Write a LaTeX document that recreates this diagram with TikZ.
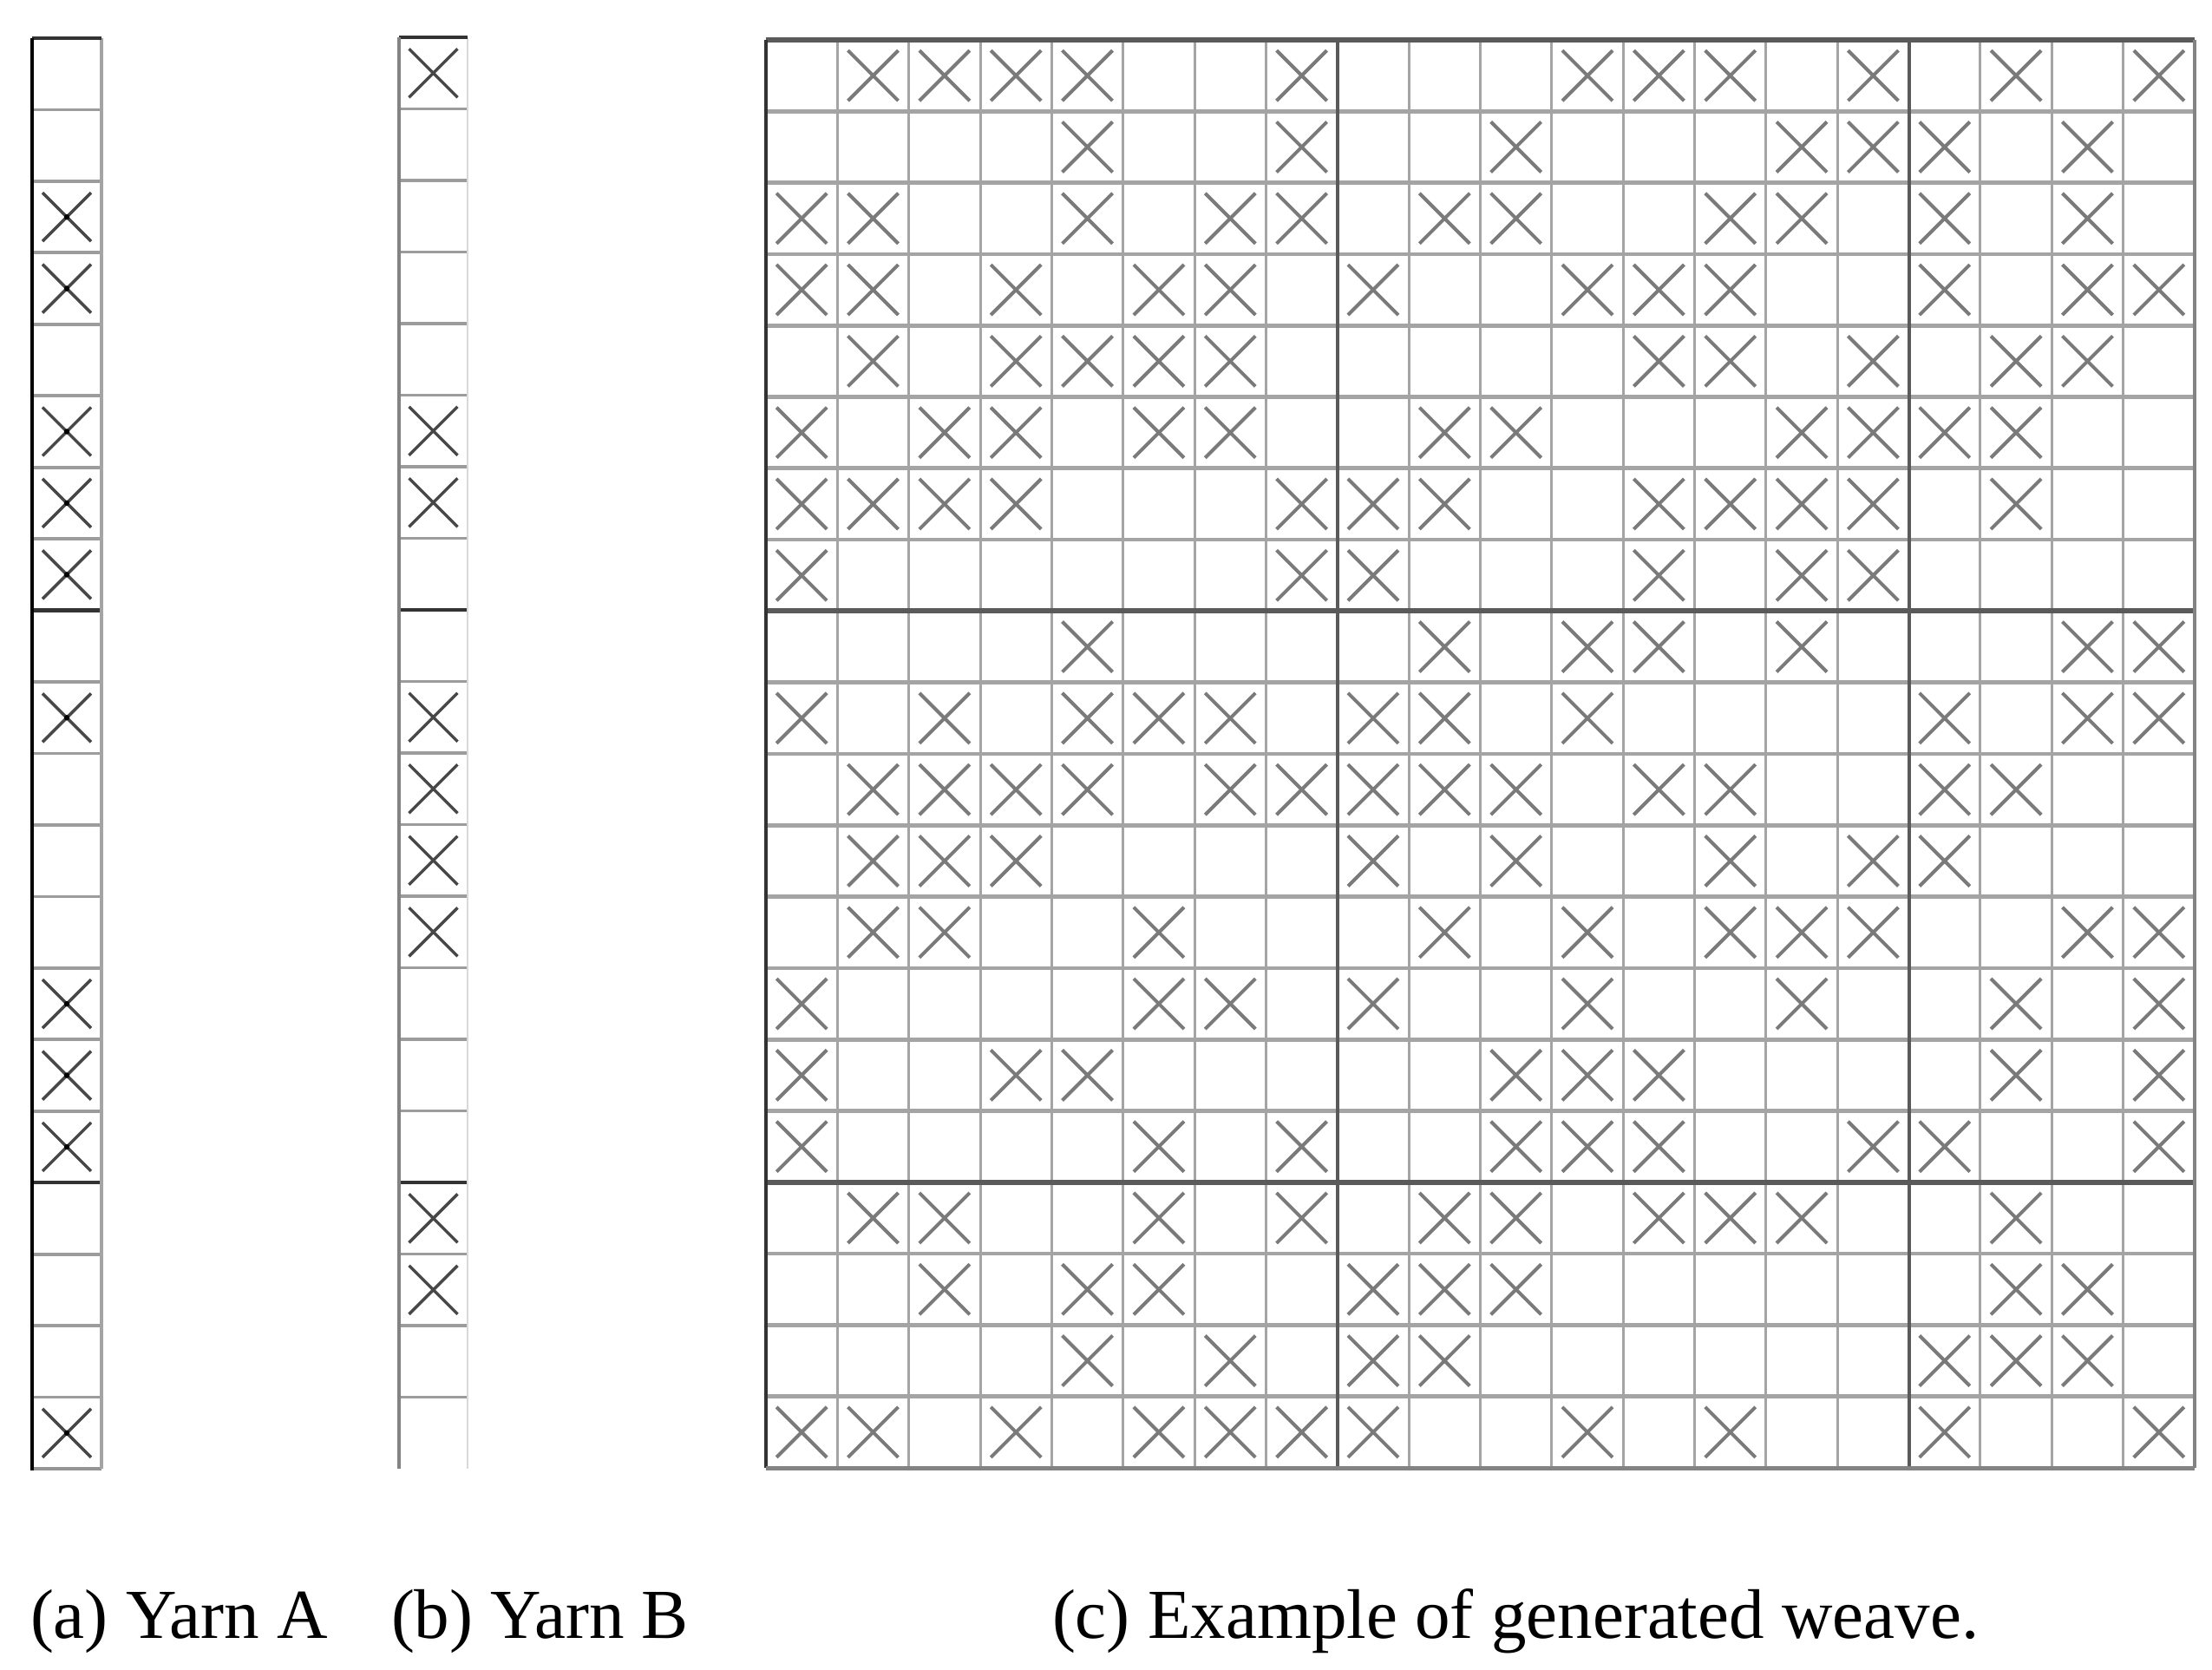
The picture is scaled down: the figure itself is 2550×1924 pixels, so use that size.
\documentclass[tikz,border=0pt]{standalone}
\usepackage{fontspec}
\setmainfont{Liberation Serif}
\definecolor{gthin}{HTML}{A4A4A4}
\definecolor{gthick}{HTML}{5A5A5A}
\definecolor{gx}{HTML}{7A7A7A}
\definecolor{dx}{HTML}{474747}
\definecolor{dline}{HTML}{333333}
\tikzset{
  hthin/.style={draw=gthin, line width=0.95pt},
  vthin/.style={draw=gthin, line width=0.6pt},
  hthick/.style={draw=gthick, line width=1.2pt},
  vthick/.style={draw=gthick, line width=0.8pt},
  gridx/.style={draw=gx, line width=0.8pt},
  yarnx/.style={draw=dx, line width=0.7pt},
  ythin/.style={draw=gthin!95!black, line width=0.75pt},
  ythick/.style={draw=dline, line width=0.85pt},
  lbl/.style={anchor=base west, inner sep=0pt, font=\fontsize{16.2}{19}\selectfont}
}
\begin{document}
\begin{tikzpicture}[x=0.2pt,y=-0.2pt]
\useasboundingbox (0,0) rectangle (2550,1924);
\fill[white] (0,0) rectangle (2550,1924);

% ---------- Grid (c) ----------
\def\gx{883}\def\gy{46}\def\gw{82.35}\def\gh{82.3}
\foreach \i in {1,...,19}{
  \ifnum\i=8\relax\else\ifnum\i=16\relax\else
  \draw[vthin] (\gx+\i*\gw,\gy) -- (\gx+\i*\gw,\gy+20*\gh);
  \fi\fi
  \ifnum\i=8\relax\else\ifnum\i=16\relax\else
  \draw[hthin] (\gx,\gy+\i*\gh) -- (\gx+20*\gw,\gy+\i*\gh);
  \fi\fi
}
\foreach \i in {8,16}{
  \draw[vthick] (\gx+\i*\gw,\gy) -- (\gx+\i*\gw,\gy+20*\gh);
  \draw[hthick] (\gx,\gy+\i*\gh) -- (\gx+20*\gw,\gy+\i*\gh);
}
\draw[draw=gthick, line width=1.1pt] (\gx,\gy) -- (\gx+20*\gw,\gy);
\draw[draw=dline, line width=0.7pt] (\gx,\gy) -- (\gx,\gy+20*\gh);
\draw[draw=gthin!80!black, line width=0.8pt] (\gx+20*\gw,\gy) -- (\gx+20*\gw,\gy+20*\gh);
\draw[draw=gthin!80!black, line width=1.0pt] (\gx,\gy+20*\gh) -- (\gx+20*\gw,\gy+20*\gh);

\foreach \cols [count=\r] in {
  {2,3,4,5,8,12,13,14,16,18,20},
  {5,8,11,15,16,17,19},
  {1,2,5,7,8,10,11,14,15,17,19},
  {1,2,4,6,7,9,12,13,14,17,19,20},
  {2,4,5,6,7,13,14,16,18,19},
  {1,3,4,6,7,10,11,15,16,17,18},
  {1,2,3,4,8,9,10,13,14,15,16,18},
  {1,8,9,13,15,16},
  {5,10,12,13,15,19,20},
  {1,3,5,6,7,9,10,12,17,19,20},
  {2,3,4,5,7,8,9,10,11,13,14,17,18},
  {2,3,4,9,11,14,16,17},
  {2,3,6,10,12,14,15,16,19,20},
  {1,6,7,9,12,15,18,20},
  {1,4,5,11,12,13,18,20},
  {1,6,8,11,12,13,16,17,20},
  {2,3,6,8,10,11,13,14,15,18},
  {3,5,6,9,10,11,18,19},
  {5,7,9,10,17,18,19},
  {1,2,4,6,7,8,9,12,14,17,20}}{
  \foreach \c in \cols {
    \draw[gridx] (\gx+\c*\gw-0.5*\gw-29,\gy+\r*\gh-0.5*\gh-29) -- (\gx+\c*\gw-0.5*\gw+29,\gy+\r*\gh-0.5*\gh+29)
                 (\gx+\c*\gw-0.5*\gw-29,\gy+\r*\gh-0.5*\gh+29) -- (\gx+\c*\gw-0.5*\gw+29,\gy+\r*\gh-0.5*\gh-29);
  }
}

% ---------- Yarn A ----------
\def\ax{37}\def\aw{80}\def\ay{44}\def\ah{82.45}
\foreach \i in {1,...,19}{
  \ifnum\i=8\relax\else\ifnum\i=16\relax\else
  \draw[ythin] (\ax,\ay+\i*\ah) -- (\ax+\aw,\ay+\i*\ah);
  \fi\fi
}
\foreach \i in {8,16}{\draw[ythick] (\ax,\ay+\i*\ah) -- (\ax+\aw,\ay+\i*\ah);}
\draw[draw=gthin!90!black, line width=0.75pt] (\ax,\ay+20*\ah) -- (\ax+\aw,\ay+20*\ah);
\draw[draw=gthin, line width=0.75pt] (\ax+\aw,\ay) -- (\ax+\aw,\ay+20*\ah);
\draw[draw=dline, line width=0.75pt] (\ax,\ay) -- (\ax+\aw,\ay);
\draw[draw=black, line width=0.75pt] (\ax,\ay) -- (\ax,\ay+20*\ah+2);
\foreach \r in {3,4,6,7,8,10,14,15,16,20}{
  \draw[yarnx] (\ax+\aw/2-28,\ay+\r*\ah-0.5*\ah-28) -- (\ax+\aw/2+28,\ay+\r*\ah-0.5*\ah+28)
               (\ax+\aw/2-28,\ay+\r*\ah-0.5*\ah+28) -- (\ax+\aw/2+28,\ay+\r*\ah-0.5*\ah-28);
  \fill[black] (\ax+\aw/2,\ay+\r*\ah-0.5*\ah) circle[radius=3.2];
}

% ---------- Yarn B ----------
\def\bx{460}\def\bw{79}\def\by{43}\def\bh{82.5}
\foreach \i in {1,...,19}{
  \ifnum\i=8\relax\else\ifnum\i=16\relax\else
  \draw[ythin] (\bx,\by+\i*\bh) -- (\bx+\bw,\by+\i*\bh);
  \fi\fi
}
\foreach \i in {8,16}{\draw[ythick] (\bx,\by+\i*\bh) -- (\bx+\bw,\by+\i*\bh);}
\draw[draw=black!15, line width=0.4pt] (\bx+\bw,\by) -- (\bx+\bw,\by+20*\bh);
\draw[draw=dline, line width=0.75pt] (\bx,\by) -- (\bx+\bw,\by);
\draw[draw=gthin!80!black, line width=0.9pt] (\bx,\by) -- (\bx,\by+20*\bh);
\foreach \r in {1,6,7,10,11,12,13,17,18}{
  \draw[yarnx] (\bx+\bw/2-28,\by+\r*\bh-0.5*\bh-28) -- (\bx+\bw/2+28,\by+\r*\bh-0.5*\bh+28)
               (\bx+\bw/2-28,\by+\r*\bh-0.5*\bh+28) -- (\bx+\bw/2+28,\by+\r*\bh-0.5*\bh-28);
}

% ---------- Labels ----------
\node[lbl] (la) at (34,1888) {(a) Yarn A};
\node[lbl] (lb) at (450,1888) {(b) Yarn B};
\node[lbl] (lc) at (1212,1888) {(c) Example of generated weave.};
\end{tikzpicture}
\end{document}
